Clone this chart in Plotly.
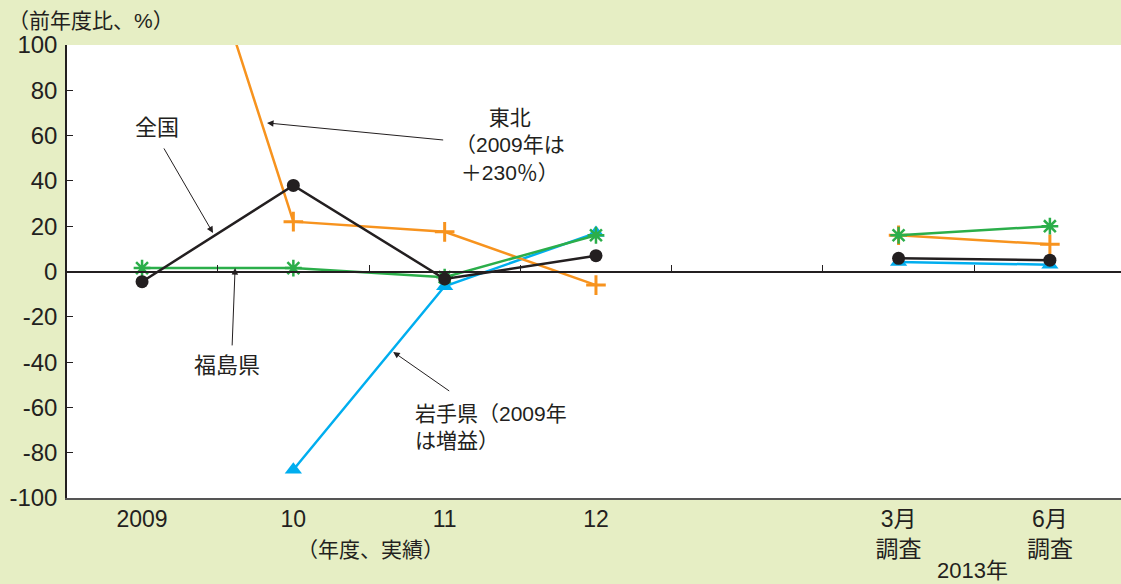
import plotly.graph_objects as go

# ---- data ----
categories = ["2009", "10", "11", "12", "", "3月<br>調査", "6月<br>調査"]
x_pos = [0, 1, 2, 3, 4, 5, 6]
zenkoku = [-4.5, 38, -3.3, 7, None, 5.8, 5]
tohoku = [230, 22, 17.5, -6, None, 16, 12]
fukushima = [1.5, 1.5, -2.5, 16, None, 16, 20]
iwate = [None, -87.5, -6.5, 17, None, 4.2, 3]
y_ticks = [-100, -80, -60, -40, -20, 0, 20, 40, 60, 80, 100]
y_ticktext = ["-100", "-80", "-60", "-40", "-20", "0", "20", "40", "60", "80", "100"]
sep_ticks = [0.5, 1.5, 2.5, 3.5, 4.5, 5.5]

FONT = "Liberation Sans, Arial, Noto Sans CJK JP, sans-serif"
BLACK = "#231F20"
ORANGE = "#F7931E"
GREEN = "#2BAE4A"
BLUE = "#00AEEF"
BG = "#E6EEC4"

fig = go.Figure()

fig.add_trace(go.Scatter(x=x_pos, y=iwate, mode="lines+markers",
                         line=dict(color=BLUE, width=2.5),
                         marker=dict(symbol="triangle-up", size=15, color=BLUE),
                         connectgaps=False, showlegend=False))
fig.add_trace(go.Scatter(x=x_pos, y=tohoku, mode="lines+markers",
                         line=dict(color=ORANGE, width=2.5),
                         marker=dict(symbol="cross-thin", size=14,
                                     line=dict(color=ORANGE, width=3)),
                         connectgaps=False, showlegend=False))
fig.add_trace(go.Scatter(x=x_pos, y=fukushima, mode="lines+markers",
                         line=dict(color=GREEN, width=2.5),
                         marker=dict(symbol="asterisk", size=14,
                                     line=dict(color=GREEN, width=2.5)),
                         connectgaps=False, showlegend=False))
fig.add_trace(go.Scatter(x=x_pos, y=zenkoku, mode="lines+markers",
                         line=dict(color=BLACK, width=2.5),
                         marker=dict(symbol="circle", size=13, color=BLACK),
                         connectgaps=False, showlegend=False))
# invisible trace to carry the zero-line axis
fig.add_trace(go.Scatter(x=[0], y=[0], xaxis="x2", mode="markers",
                         marker=dict(opacity=0), hoverinfo="skip", showlegend=False))

xr = [-0.496, 6.47]
fig.update_layout(
    width=1121, height=584,
    margin=dict(l=67, r=0, t=45, b=86),
    paper_bgcolor=BG, plot_bgcolor="white",
    font=dict(family=FONT, size=22, color=BLACK),
    xaxis=dict(range=xr, tickvals=x_pos, ticktext=categories, ticks="",
               showgrid=False, zeroline=False, showline=True,
               linecolor="#555555", linewidth=1.5,
               tickfont=dict(size=23)),
    xaxis2=dict(range=xr, overlaying="x", anchor="free", position=0.5,
                side="top", tickvals=sep_ticks, ticks="outside", ticklen=6,
                tickwidth=1.2, tickcolor=BLACK, showticklabels=False,
                showgrid=False, zeroline=False, showline=True,
                linecolor=BLACK, linewidth=1.5),
    yaxis=dict(range=[-100, 100], tickvals=y_ticks, ticktext=y_ticktext,
               ticks="inside", ticklen=6,
               tickcolor=BLACK, showgrid=False, zeroline=False, showline=True,
               linecolor=BLACK, linewidth=1.5, tickfont=dict(size=24),
               ticklabelstandoff=3),
)

ann = []
# axis titles
ann.append(dict(text="（前年度比、%）", xref="paper", yref="paper", x=-0.058, y=1.055,
                xanchor="left", yanchor="middle", showarrow=False, font=dict(size=21)))
ann.append(dict(text="（年度、実績）", xref="x", yref="paper", x=1.507, y=-0.113,
                xanchor="center", yanchor="middle", showarrow=False, font=dict(size=21)))
ann.append(dict(text="2013年", xref="x", yref="paper", x=5.49, y=-0.159,
                xanchor="center", yanchor="middle", showarrow=False, font=dict(size=22)))
# labels
ann.append(dict(text="全国", xref="x", yref="y", x=0.1, y=63.4, showarrow=False,
                xanchor="center", yanchor="middle", font=dict(size=22)))
ann.append(dict(text="東北<br>（2009年は<br>＋230％）", xref="x", yref="y", x=2.432, y=56,
                showarrow=False, xanchor="center", yanchor="middle", align="center",
                font=dict(size=21)))
ann.append(dict(text="福島県", xref="x", yref="y", x=0.56, y=-41.7, showarrow=False,
                xanchor="center", yanchor="middle", font=dict(size=22)))
ann.append(dict(text="岩手県（2009年<br>は増益）", xref="x", yref="y", x=1.79, y=-68.5,
                showarrow=False, xanchor="left", yanchor="middle", align="left",
                font=dict(size=21)))
# arrows (head at x,y ; tail at ax,ay)
arrows = [
    (0.469, 17.0, 0.139, 55.0),
    (0.826, 65.6, 2.0, 58.0),
    (0.615, 1.5, 0.595, -33.3),
    (1.66, -35.5, 2.04, -53.2),
]
for hx, hy, tx, ty in arrows:
    ann.append(dict(text="", x=hx, y=hy, ax=tx, ay=ty, xref="x", yref="y",
                    axref="x", ayref="y", showarrow=True, arrowhead=2,
                    arrowsize=1.3, arrowwidth=1, arrowcolor=BLACK))
fig.update_layout(annotations=ann)

fig.write_html("out.html")
